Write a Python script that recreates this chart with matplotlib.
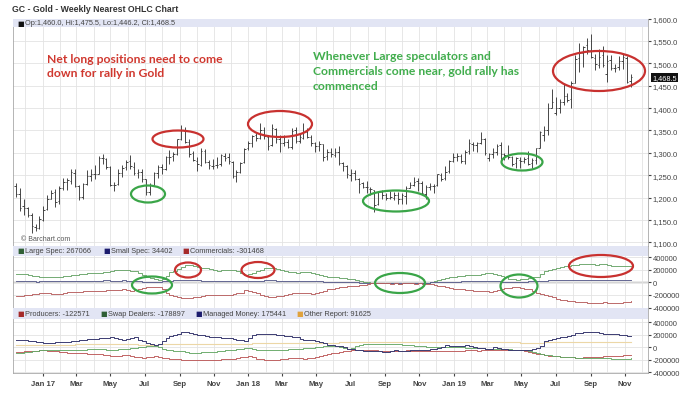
import matplotlib
matplotlib.use('Agg')
import matplotlib.pyplot as plt
import matplotlib.dates as mdates
import matplotlib.ticker as mticker
from matplotlib.patches import Ellipse, Rectangle
import pandas as pd

plt.rcParams['font.family'] = ['Liberation Sans', 'DejaVu Sans']

# ---- weekly gold futures bars, first week starts 2016-11-14 ----
start_week = '2016-11-14'

opens = [1227, 1209, 1182, 1178, 1162, 1135, 1133,
         # 2017
         1151, 1174, 1197, 1212, 1193, 1222, 1234, 1238, 1256, 1226, 1202, 1231, 1249,
         1253, 1254, 1288, 1287, 1268, 1228, 1230, 1256, 1268, 1282, 1268, 1256, 1258,
         1241, 1213, 1229, 1255, 1269, 1265, 1290, 1292, 1297, 1331, 1349, 1324, 1299,
         1283, 1274, 1304, 1280, 1271, 1272, 1275, 1294, 1290, 1280, 1248, 1257, 1280,
         # 2018
         1310, 1322, 1339, 1334, 1352, 1336, 1317, 1353, 1330, 1323, 1324, 1313, 1350,
         1327, 1334, 1347, 1335, 1323, 1315, 1319, 1292, 1303, 1296, 1301, 1277, 1270,
         1251, 1256, 1241, 1232, 1223, 1220, 1217, 1185, 1213, 1206, 1199, 1200, 1206,
         1196, 1204, 1222, 1228, 1237, 1233, 1209, 1224, 1226, 1228, 1250, 1243, 1259, 1282,
         # 2019
         1290, 1292, 1282, 1304, 1320, 1317, 1323, 1332, 1288, 1298, 1302, 1317,
         1297, 1293, 1290, 1277, 1285, 1281, 1289, 1277, 1285, 1312, 1341, 1352, 1401,
         1390, 1401, 1414, 1426, 1420, 1457, 1512, 1524, 1540, 1530, 1512, 1497, 1518,
         1475, 1507, 1490, 1491, 1505, 1511, 1460.0]

highs = [1232, 1221, 1196, 1180, 1166, 1142, 1160,
         1182, 1207, 1218, 1220, 1227, 1245, 1245, 1264, 1264, 1229, 1232, 1261, 1264,
         1274, 1293, 1298, 1289, 1271, 1236, 1264, 1272, 1284, 1296, 1279, 1264, 1264,
         1242, 1233, 1258, 1274, 1275, 1294, 1306, 1301, 1332, 1362, 1358, 1330, 1304,
         1290, 1310, 1308, 1284, 1286, 1290, 1298, 1300, 1300, 1282, 1262, 1279, 1310,
         1326, 1341, 1345, 1366, 1357, 1341, 1364, 1356, 1340, 1341, 1330, 1356, 1357,
         1345, 1366, 1356, 1340, 1324, 1326, 1320, 1308, 1310, 1310, 1316, 1280, 1272,
         1265, 1262, 1245, 1236, 1237, 1224, 1218, 1216, 1218, 1210, 1216, 1213, 1212,
         1210, 1227, 1236, 1246, 1243, 1238, 1228, 1232, 1231, 1252, 1256, 1271, 1285, 1300,
         1299, 1298, 1306, 1331, 1324, 1325, 1347, 1334, 1300, 1312, 1320, 1325,
         1300, 1317, 1294, 1291, 1290, 1291, 1304, 1289, 1311, 1348, 1359, 1412, 1443,
         1425, 1420, 1453, 1433, 1460, 1519, 1546, 1539, 1556, 1566, 1520, 1532, 1538,
         1518, 1519, 1499, 1516, 1521, 1516, 1475.5]

lows = [1202, 1171, 1162, 1158, 1122, 1125, 1130,
        1148, 1172, 1196, 1180, 1187, 1217, 1217, 1231, 1224, 1195, 1196, 1229, 1238,
        1242, 1253, 1276, 1263, 1227, 1215, 1228, 1247, 1262, 1265, 1251, 1245, 1235,
        1205, 1205, 1228, 1245, 1252, 1262, 1276, 1283, 1295, 1328, 1321, 1291, 1281,
        1260, 1270, 1277, 1263, 1265, 1267, 1270, 1283, 1276, 1245, 1236, 1255, 1278,
        1307, 1314, 1326, 1330, 1330, 1307, 1315, 1322, 1303, 1316, 1310, 1309, 1323,
        1322, 1331, 1334, 1316, 1302, 1304, 1282, 1285, 1290, 1291, 1272, 1260, 1245,
        1237, 1239, 1211, 1222, 1211, 1207, 1167, 1183, 1196, 1194, 1196, 1195, 1186,
        1187, 1185, 1221, 1226, 1214, 1208, 1197, 1217, 1211, 1226, 1238, 1240, 1256, 1280,
        1282, 1278, 1276, 1298, 1305, 1302, 1320, 1296, 1281, 1289, 1295, 1281,
        1285, 1287, 1271, 1266, 1266, 1277, 1274, 1267, 1276, 1311, 1327, 1341, 1400,
        1384, 1390, 1407, 1414, 1400, 1455, 1480, 1492, 1520, 1511, 1486, 1490, 1491,
        1459, 1486, 1480, 1484, 1487, 1456, 1446.2]

closes = [1208, 1178, 1177, 1162, 1137, 1133, 1152,
          1173, 1197, 1210, 1191, 1221, 1234, 1239, 1257, 1226, 1201, 1230, 1249, 1252,
          1254, 1289, 1289, 1268, 1228, 1228, 1255, 1267, 1280, 1271, 1256, 1257, 1242,
          1212, 1228, 1255, 1269, 1264, 1290, 1291, 1297, 1330, 1351, 1325, 1297, 1284,
          1275, 1304, 1280, 1272, 1270, 1274, 1296, 1288, 1281, 1248, 1257, 1278, 1309,
          1322, 1338, 1333, 1352, 1337, 1316, 1356, 1330, 1323, 1324, 1313, 1349, 1327,
          1336, 1347, 1336, 1323, 1315, 1320, 1291, 1303, 1298, 1302, 1278, 1270, 1253,
          1255, 1241, 1231, 1223, 1223, 1219, 1184, 1213, 1206, 1200, 1201, 1207, 1196,
          1207, 1222, 1229, 1236, 1233, 1210, 1223, 1226, 1226, 1252, 1242, 1258, 1283, 1291,
          1292, 1282, 1303, 1322, 1318, 1322, 1330, 1299, 1298, 1302, 1315, 1298,
          1295, 1291, 1276, 1289, 1281, 1287, 1276, 1284, 1311, 1346, 1352, 1400, 1413,
          1400, 1413, 1427, 1419, 1457, 1509, 1523, 1537, 1529, 1515, 1499, 1515, 1497,
          1505, 1489, 1490, 1505, 1514, 1459, 1468.5]

# ---- COT legacy net positions (thousands of contracts) ----
large_spec = [140, 136, 128, 118, 110, 102, 94, 88,
              88, 90, 92, 94, 100, 106, 111, 120,
              138, 142, 145, 149, 152, 158, 166, 172,
              187, 192, 198, 204, 200, 190, 175, 152,
              125, 95, 70, 55, 41, 62, 110, 165,
              190, 218, 242, 274, 282, 262, 242, 234,
              228, 214, 198, 188, 192, 198, 202, 196,
              178, 150, 122, 138, 152, 176, 204, 226,
              232, 236, 222, 200, 178, 170, 162, 156,
              166, 172, 162, 150, 140, 124, 110, 95,
              88, 80, 68, 64, 60, 57, 44, 24,
              15, 8, -3, -8, -14, -12, -16, -10,
              -14, -18, -12, -8, -14, -10, -6, -2,
              -10, 3, 20, 41, 62, 79, 88, 95,
              98, 104, 111, 116, 122, 126, 140, 149,
              145, 133, 120, 106, 88, 57, 48, 41,
              52, 60, 68, 82, 95, 140, 177, 205,
              222, 231, 242, 255, 270, 280, 285, 290,
              294, 296, 290, 285, 292, 296, 282, 269,
              262, 258, 266, 270, 267.066]

small_spec = [22, 20, 18, 17, 16, 15, 16, 18,
              20, 21, 22, 24, 26, 28, 27, 29,
              25, 24, 26, 28, 30, 31, 33, 32,
              30, 28, 30, 32, 30, 27, 24, 20,
              15, 12, 10, 11, 12, 16, 22, 28,
              32, 36, 40, 42, 40, 36, 33, 31,
              30, 28, 27, 26, 27, 28, 27, 26,
              22, 18, 16, 18, 22, 26, 30, 33,
              35, 34, 31, 28, 26, 24, 22, 22,
              24, 25, 23, 21, 19, 16, 14, 12,
              10, 9, 8, 6, 4, 2, 0, -2,
              -5, -8, -10, -12, -14, -13, -15, -12,
              -13, -11, -12, -10, -9, -8, -6, -4,
              -2, 2, 5, 8, 10, 12, 13, 14,
              15, 16, 16, 17, 18, 18, 19, 20,
              19, 18, 16, 14, 12, 10, 9, 10,
              12, 14, 16, 20, 24, 28, 30, 32,
              34, 36, 38, 40, 42, 44, 45, 46,
              47, 46, 44, 42, 42, 40, 38, 36,
              35, 34, 35, 35, 34.402]

commercials = [-215, -210, -200, -195, -188, -182, -176, -173,
               -176, -180, -178, -178, -170, -160, -152, -147,
               -147, -142, -140, -138, -136, -132, -130, -128,
               -126, -120, -115, -110, -118, -136, -120, -105,
               -94, -78, -68, -66, -72, -110, -162, -195,
               -215, -230, -241, -248, -241, -236, -225, -215,
               -205, -199, -196, -198, -200, -199, -196, -185,
               -170, -162, -126, -140, -147, -175, -199, -220,
               -230, -228, -222, -215, -200, -185, -173, -168,
               -162, -165, -172, -178, -168, -150, -136, -110,
               -98, -90, -73, -68, -62, -57, -50, -42,
               -35, -26, -16, -12, -8, -14, -5, -18,
               -10, -21, -12, -6, -15, -18, -12, -21,
               -21, -30, -42, -50, -57, -75, -94, -100,
               -106, -110, -118, -126, -130, -134, -136, -142,
               -147, -140, -126, -110, -95, -84, -68, -72,
               -84, -98, -110, -140, -162, -178, -200, -215,
               -240, -267, -278, -285, -293, -300, -305, -309,
               -315, -322, -330, -335, -328, -319, -322, -328,
               -330, -325, -315, -309, -301.468]

# ---- COT disaggregated net positions (thousands of contracts) ----
producers = [-75, -70, -65, -60, -58, -55, -50, -48,
             -52, -58, -65, -75, -80, -85, -88, -91,
             -95, -98, -100, -102, -102, -110, -120, -130,
             -144, -140, -132, -128, -130, -140, -150, -160,
             -166, -160, -150, -144, -150, -165, -175, -180,
             -182, -190, -196, -198, -198, -196, -198, -198,
             -198, -198, -196, -195, -192, -190, -192, -180,
             -168, -160, -155, -144, -150, -182, -190, -196,
             -198, -198, -196, -190, -180, -172, -166, -170,
             -176, -182, -178, -170, -160, -144, -125, -100,
             -91, -85, -75, -65, -55, -48, -42, -38,
             -40, -44, -48, -50, -52, -55, -58, -60,
             -58, -55, -52, -50, -52, -55, -58, -60,
             -62, -64, -65, -66, -65, -62, -60, -58,
             -55, -52, -50, -48, -50, -52, -48, -45,
             -42, -40, -42, -38, -38, -36, -38, -40,
             -50, -62, -75, -90, -105, -112, -125, -135,
             -140, -144, -150, -155, -160, -162, -166, -164,
             -160, -158, -155, -152, -148, -146, -144, -140,
             -138, -134, -130, -126, -122.571]

swap_dealers = [-91, -85, -78, -70, -62, -55, -50, -48,
                -45, -42, -40, -38, -40, -42, -45, -48,
                -42, -35, -30, -25, -22, -25, -30, -35,
                -38, -36, -34, -33, -28, -18, -5, 5,
                11, 16, 20, 22, 10, -22, -35, -48,
                -55, -59, -65, -75, -85, -91, -88, -82,
                -78, -75, -70, -62, -55, -48, -45, -40,
                -32, -22, -12, -6, -20, -38, -42, -45,
                -48, -48, -45, -40, -36, -33, -30, -28,
                -20, -12, -8, -6, 0, 10, 15, 15,
                20, 15, 5, -10, -22, -10, 20, 42,
                48, 52, 55, 58, 60, 58, 55, 52,
                50, 48, 45, 40, 35, 28, 20, 15,
                11, 8, 5, 4, 2, 0, 2, 0,
                0, -2, -5, -8, -12, -15, -18, -20,
                -22, -24, -26, -28, -30, -32, -35, -36,
                -38, -45, -60, -75, -90, -105, -115, -128,
                -138, -145, -155, -158, -160, -162, -164, -166,
                -168, -170, -172, -174, -176, -176, -178, -180,
                -182, -182, -180, -179, -178.897]

managed_money = [122, 118, 110, 104, 100, 90, 78, 69,
                 72, 76, 80, 85, 88, 92, 96, 101,
                 112, 122, 128, 133, 138, 145, 150, 154,
                 165, 150, 130, 122, 138, 150, 165, 120,
                 101, 70, 48, 31, 60, 101, 154, 175,
                 192, 220, 245, 240, 229, 210, 200, 192,
                 180, 165, 160, 158, 154, 150, 154, 140,
                 120, 112, 101, 150, 192, 210, 218, 215,
                 212, 208, 205, 200, 185, 176, 170, 165,
                 140, 122, 118, 112, 95, 80, 69, 40,
                 31, 25, 15, 0, -22, -30, -40, -48,
                 -52, -55, -59, -62, -65, -75, -70, -60,
                 -48, -52, -59, -55, -48, -45, -42, -40,
                 -38, -30, -22, -10, 5, 31, 25, 15,
                 15, 22, 31, 28, 10, -6, -15, -22,
                 -22, 10, -5, -20, -33, -40, -48, -48,
                 -48, -45, -38, -20, -6, 15, 101, 120,
                 138, 150, 165, 172, 176, 200, 229, 235,
                 240, 245, 245, 240, 225, 208, 212, 215,
                 218, 205, 192, 180, 175.441]

other_reports = [40, 40, 38, 38, 36, 36, 38, 40,
                 40, 42, 42, 44, 44, 45, 45, 46,
                 46, 48, 48, 50, 50, 50, 52, 52,
                 52, 52, 50, 50, 50, 48, 46, 44,
                 44, 42, 42, 44, 46, 48, 50, 52,
                 54, 56, 58, 58, 58, 56, 56, 55,
                 55, 56, 56, 57, 58, 58, 60, 60,
                 60, 58, 58, 60, 62, 64, 66, 66,
                 66, 66, 66, 65, 65, 64, 64, 64,
                 65, 66, 66, 67, 68, 68, 70, 72,
                 74, 76, 78, 80, 82, 84, 84, 85,
                 86, 86, 86, 86, 86, 85, 85, 84,
                 84, 84, 84, 84, 83, 83, 82, 82,
                 82, 82, 82, 82, 83, 83, 84, 84,
                 84, 84, 85, 85, 85, 84, 84, 84,
                 83, 83, 82, 82, 81, 80, 80, 78,
                 76, 74, 72, 72, 74, 76, 78, 80,
                 80, 82, 82, 84, 84, 85, 86, 86,
                 87, 88, 88, 89, 89, 90, 90, 91,
                 91, 92, 92, 92, 91.625]

STRIP = '#e2e5f4'
GRID = '#e3e3e3'
W, H = 690, 402
LEFT, RIGHT = 13, 648


def box(top, bottom):
    return [LEFT / W, 1 - bottom / H, (RIGHT - LEFT) / W, (bottom - top) / H]


def header(ax, strip_px, total_px, items):
    f = strip_px / total_px
    ax.add_patch(Rectangle((0, 1 - f), 1, f, transform=ax.transAxes,
                           facecolor=STRIP, edgecolor='none', zorder=4))
    for x_px, color, label in items:
        xa = (x_px - LEFT) / (RIGHT - LEFT)
        ax.text(xa, 1 - f / 2, '\u25a0', color=color, fontsize=5, va='center',
                transform=ax.transAxes, zorder=5, family=['DejaVu Sans'])
        ax.text(xa + 8 / (RIGHT - LEFT), 1 - f / 2, label, color='#444444',
                fontsize=5.3, va='center', transform=ax.transAxes, zorder=5)


def month_label(x, pos):
    dt = mdates.num2date(x)
    return dt.strftime('%b %y') if dt.month == 1 else dt.strftime('%b')


weeks = pd.date_range(start_week, periods=len(closes), freq='7D')
d = mdates.date2num(weeks)
x_lo = mdates.date2num(pd.Timestamp('2016-11-09'))
x_hi = mdates.date2num(pd.Timestamp('2019-12-12'))

fig = plt.figure(figsize=(6.9, 4.02), dpi=100)
ax1 = fig.add_axes(box(19.5, 246.5))
ax2 = fig.add_axes(box(246.5, 308.5))
ax3 = fig.add_axes(box(308.5, 373.5))

for ax in (ax1, ax2, ax3):
    ax.set_xlim(x_lo, x_hi)
    ax.xaxis.set_major_locator(mdates.MonthLocator(bymonth=[1, 3, 5, 7, 9, 11]))
    ax.xaxis.set_minor_locator(mdates.MonthLocator())
    ax.xaxis.set_major_formatter(mticker.FuncFormatter(month_label))
    ax.grid(which='both', axis='x', color=GRID, lw=0.6, zorder=0)
    ax.grid(which='major', axis='y', color=GRID, lw=0.6, zorder=0)
    ax.yaxis.tick_right()
    ax.tick_params(axis='y', labelsize=5.5, length=2, pad=1.5, colors='#444444')
    ax.tick_params(axis='x', which='major', length=2, labelsize=5.6, colors='#444444')
    ax.tick_params(axis='x', which='minor', length=0)
    for s in ax.spines.values():
        s.set_color('#a8a8a8')
        s.set_linewidth(0.6)
ax1.tick_params(axis='x', labelbottom=False)
ax2.tick_params(axis='x', labelbottom=False)
for lab in ax3.get_xticklabels():
    lab.set_fontweight('bold')

# price panel
bar_color = '#3a3a3a'
ax1.vlines(d, lows, highs, color=bar_color, lw=0.65, zorder=3)
ax1.hlines(opens, d - 2.6, d, color=bar_color, lw=0.65, zorder=3)
ax1.hlines(closes, d, d + 2.6, color=bar_color, lw=0.65, zorder=3)
ax1.set_ylim(1093.3, 1600)
ax1.set_yticks(range(1100, 1601, 50))
ax1.yaxis.set_major_formatter(mticker.FuncFormatter(lambda v, p: f'{v:,.1f}'))
header(ax1, 8.5, 227, [(17, '#111111',
       f'Op:{opens[-1]:,.1f}, Hi:{highs[-1]:,.1f}, Lo:{lows[-1]:,.1f}, Cl:{closes[-1]:,.1f}')])
ax1.text(1 + 4 / (RIGHT - LEFT), closes[-1], f'{closes[-1]:,.1f}', transform=ax1.get_yaxis_transform(),
         fontsize=5.3, color='white', va='center', ha='left', zorder=6,
         bbox=dict(boxstyle='square,pad=0.15', facecolor='#111111', edgecolor='none'))
ax1.text(0.012, 0.025, '\u00a9 Barchart.com', transform=ax1.transAxes, fontsize=5, color='#555555')


def cot_fmt(v, p):
    return f'{int(round(v * 1000))}'


# legacy COT panel
ax2.axhline(0, color='#909090', lw=1.0, zorder=1)
ax2.step(d, large_spec, where='post', color='#6aa56a', lw=0.65, zorder=3)
ax2.step(d, small_spec, where='post', color='#5a5d8c', lw=0.65, zorder=3)
ax2.step(d, commercials, where='post', color='#b86060', lw=0.65, zorder=3)
ax2.set_ylim(-400, 590)
ax2.set_yticks(range(-400, 401, 200))
ax2.yaxis.set_major_formatter(mticker.FuncFormatter(cot_fmt))
header(ax2, 10, 62, [(17, '#2f5f35', f'Large Spec: {int(round(large_spec[-1] * 1000))}'),
                     (103, '#1c1c6e', f'Small Spec: {int(round(small_spec[-1] * 1000))}'),
                     (182, '#a52a2a', f'Commercials: {int(round(commercials[-1] * 1000))}')])

# disaggregated COT panel
ax3.step(d, other_reports, where='post', color='#ecd7a6', lw=0.8, zorder=3)
ax3.step(d, producers, where='post', color='#bd5a5a', lw=0.65, zorder=3)
ax3.step(d, swap_dealers, where='post', color='#66a866', lw=0.65, zorder=3)
ax3.step(d, managed_money, where='post', color='#3c3c72', lw=0.7, zorder=3)
ax3.set_ylim(-403, 637)
ax3.set_yticks(range(-400, 401, 200))
ax3.yaxis.set_major_formatter(mticker.FuncFormatter(cot_fmt))
header(ax3, 11.5, 65, [(17, '#a52a2a', f'Producers: {int(round(producers[-1] * 1000))}'),
                       (100, '#2f5f35', f'Swap Dealers: {int(round(swap_dealers[-1] * 1000))}'),
                       (195, '#1c1c6e', f'Managed Money: {int(round(managed_money[-1] * 1000))}'),
                       (296, '#e0a23c', f'Other Report: {int(round(other_reports[-1] * 1000))}')])

fig.text(12 / W, 1 - 10 / H, 'GC - Gold - Weekly Nearest OHLC Chart', fontsize=6.3,
         fontweight='bold', color='#333333', va='center')

# hand-drawn notes on top (pixel coordinates)
ov = fig.add_axes([0, 0, 1, 1], zorder=10)
ov.set_xlim(0, W)
ov.set_ylim(H, 0)
ov.axis('off')
ov.patch.set_alpha(0)

red_rings = [(178, 140, 51, 17), (280, 125, 64, 26), (599, 72, 92, 40),
             (188, 271, 26, 15), (258, 271, 33, 16), (601, 267, 64, 22)]
green_rings = [(148, 195, 34, 17), (396, 202, 66, 21), (522, 163, 41, 17),
               (152, 286, 40, 17), (400, 284, 50, 20), (519, 287, 37, 23)]
for cx, cy, w, h in red_rings:
    ov.add_patch(Ellipse((cx, cy), w, h, fill=False, edgecolor='#c8312f', lw=1.6))
for cx, cy, w, h in green_rings:
    ov.add_patch(Ellipse((cx, cy), w, h, fill=False, edgecolor='#3aa548', lw=1.6))

note_font = ['Lato', 'DejaVu Sans']
ov.text(47, 66.5, 'Net long positions need to come\ndown for rally in Gold', color='#d0382f',
        fontsize=8.7, fontweight='bold', family=note_font, va='center', linespacing=1.4)
ov.text(313, 71.5, 'Whenever Large speculators and\nCommercials come near, gold rally has\ncommenced',
        color='#41ad4d', fontsize=8.7, fontweight='bold', family=note_font, va='center', linespacing=1.4)

fig.savefig('out.png', dpi=100)
